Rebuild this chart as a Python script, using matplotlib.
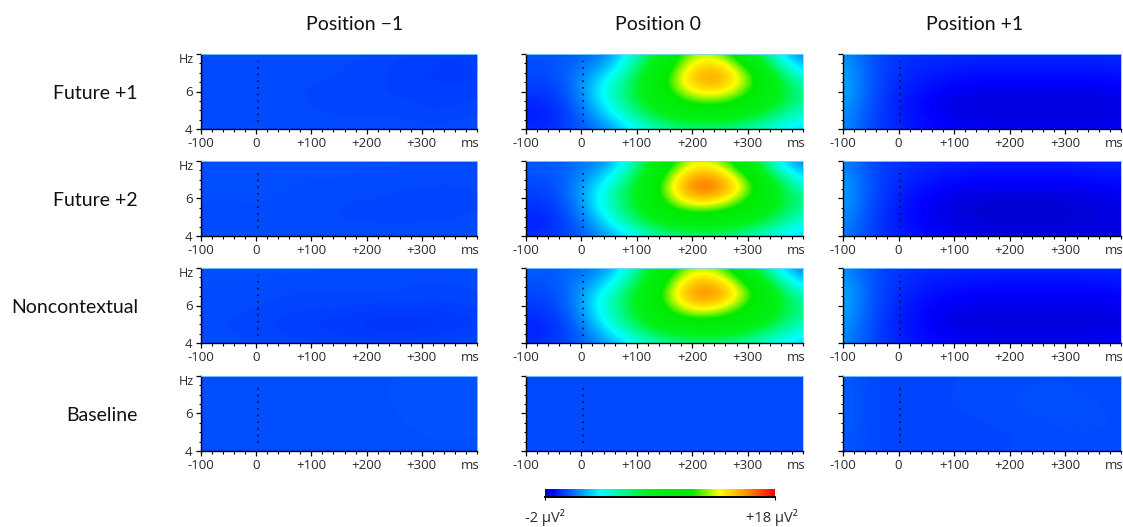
import numpy as np
import matplotlib
matplotlib.use("Agg")
import matplotlib.pyplot as plt
from matplotlib.colors import LinearSegmentedColormap, Normalize
from matplotlib.cm import ScalarMappable
from matplotlib.ticker import MultipleLocator, FixedLocator

W, H = 1123, 527
plt.rcParams['font.family'] = ['Open Sans', 'DejaVu Sans']

col_titles = ["Position \u22121", "Position 0", "Position +1"]
row_titles = ["Future +1", "Future +2", "Noncontextual", "Baseline"]
times = [-100, -50, 0, 50, 100, 150, 200, 250, 300, 350, 400]
freqs = [8.0, 7.33, 6.67, 6.0, 5.33, 4.67, 4.0]
x_tick_values = [-100, 0, 100, 200, 300]
x_tick_labels = ["-100", "0", "+100", "+200", "+300"]
scale_min, scale_max = -2, 18

f1_m1 = [[-.15,-.15,-.15,-.15,-.15,-.15,-.2,-.25,-.3,-.35,-.3],
         [-.15,-.15,-.15,-.15,-.15,-.2,-.25,-.3,-.35,-.4,-.35],
         [-.15,-.15,-.15,-.2,-.2,-.2,-.25,-.3,-.35,-.4,-.35],
         [-.15,-.15,-.15,-.2,-.2,-.25,-.25,-.3,-.3,-.35,-.3],
         [-.15,-.15,-.15,-.2,-.2,-.25,-.25,-.25,-.3,-.3,-.25],
         [-.15,-.15,-.15,-.15,-.2,-.2,-.2,-.2,-.25,-.25,-.2],
         [-.1,-.1,-.1,-.15,-.15,-.15,-.15,-.15,-.15,-.15,-.1]]
f1_0 = [[0.0,0.0,0.2,0.8,3.8,8.3,12.5,12.3,8.0,3.0,0.4],
        [-.1,-.1,0.5,1.5,5.0,9.5,14.0,14.8,11.0,5.2,1.5],
        [-.2,-.3,0.8,2.8,6.2,10.5,15.0,15.5,12.5,7.2,3.4],
        [-.4,-.5,0.8,3.6,6.5,10.3,13.5,14.0,11.5,7.5,4.8],
        [-.8,-.7,0.5,3.0,6.0,8.8,11.0,11.2,9.5,6.8,4.5],
        [-1.0,-.8,0.2,2.0,4.6,7.0,8.0,8.2,7.0,5.0,3.2],
        [-.7,-.6,0.0,1.0,2.8,4.4,5.0,5.0,4.2,3.0,2.0]]
f1_p1 = [[1.0,-.1,-.5,-.6,-.7,-.7,-.7,-.7,-.7,-.7,-.7],
         [1.4,0.0,-.6,-.8,-.9,-1.0,-1.0,-1.0,-1.0,-1.0,-.9],
         [1.6,0.0,-.7,-1.0,-1.2,-1.3,-1.3,-1.3,-1.3,-1.3,-1.2],
         [1.6,0.0,-.8,-1.2,-1.5,-1.6,-1.6,-1.6,-1.6,-1.6,-1.5],
         [1.4,-.1,-.9,-1.4,-1.7,-1.8,-1.8,-1.8,-1.8,-1.8,-1.7],
         [1.2,-.2,-.9,-1.3,-1.6,-1.7,-1.7,-1.7,-1.7,-1.7,-1.6],
         [1.0,-.2,-.8,-1.2,-1.4,-1.5,-1.5,-1.5,-1.5,-1.5,-1.5]]

f2_m1 = [[-.1,-.1,-.1,-.1,-.1,-.1,-.1,-.1,-.15,-.15,-.1],
         [-.1,-.1,-.1,-.1,-.1,-.1,-.15,-.15,-.15,-.2,-.15],
         [-.1,-.1,-.1,-.1,-.15,-.15,-.15,-.2,-.2,-.2,-.2],
         [-.1,-.1,-.1,-.15,-.15,-.2,-.2,-.2,-.25,-.25,-.2],
         [-.15,-.15,-.15,-.2,-.2,-.2,-.25,-.25,-.25,-.25,-.2],
         [-.15,-.15,-.15,-.2,-.2,-.2,-.2,-.2,-.2,-.2,-.15],
         [-.1,-.1,-.1,-.1,-.15,-.15,-.15,-.15,-.15,-.1,-.1]]
f2_0 = [[0.1,0.1,0.4,1.0,4.2,9.3,13.0,12.3,8.0,2.8,0.4],
        [0.0,0.0,0.7,2.0,5.6,11.0,15.0,14.8,10.5,5.0,1.5],
        [-.2,-.2,1.0,3.4,6.8,12.0,16.5,16.2,12.5,7.2,3.4],
        [-.4,-.4,1.0,4.0,7.0,11.5,15.0,14.5,11.0,7.6,4.6],
        [-.7,-.6,0.7,3.5,6.5,9.8,11.5,11.0,9.3,6.8,4.3],
        [-.9,-.7,0.3,2.4,5.0,7.4,8.2,8.2,7.0,5.0,3.0],
        [-.6,-.5,0.1,1.2,3.0,4.6,5.2,5.0,4.2,3.0,1.9]]
f2_p1 = [[0.8,-.2,-.6,-.7,-.8,-.9,-.9,-.9,-.9,-.8,-.8],
         [1.2,-.1,-.7,-.9,-1.1,-1.2,-1.2,-1.2,-1.2,-1.1,-1.0],
         [1.4,-.1,-.8,-1.1,-1.4,-1.5,-1.5,-1.5,-1.5,-1.4,-1.3],
         [1.4,-.1,-.9,-1.4,-1.7,-1.8,-1.85,-1.85,-1.8,-1.7,-1.6],
         [1.2,-.2,-1.0,-1.5,-1.8,-1.9,-1.95,-1.95,-1.9,-1.8,-1.7],
         [1.0,-.3,-1.0,-1.4,-1.7,-1.8,-1.85,-1.85,-1.8,-1.8,-1.7],
         [0.8,-.3,-.9,-1.3,-1.5,-1.6,-1.7,-1.7,-1.7,-1.7,-1.6]]

nc_m1 = [[-.1,-.1,-.1,-.1,-.1,-.15,-.15,-.15,-.15,-.15,-.1],
         [-.1,-.1,-.1,-.15,-.15,-.15,-.15,-.15,-.2,-.2,-.15],
         [-.15,-.15,-.15,-.2,-.2,-.2,-.2,-.2,-.25,-.25,-.2],
         [-.15,-.15,-.2,-.25,-.25,-.25,-.3,-.3,-.3,-.3,-.25],
         [-.2,-.2,-.25,-.3,-.35,-.4,-.45,-.5,-.5,-.45,-.35],
         [-.2,-.2,-.25,-.3,-.35,-.4,-.45,-.5,-.45,-.4,-.3],
         [-.1,-.15,-.2,-.25,-.25,-.3,-.3,-.3,-.3,-.25,-.2]]
nc_0 = [[0.1,0.1,0.4,1.0,4.2,9.0,12.7,12.0,7.8,2.8,0.4],
        [0.0,0.0,0.7,2.0,5.6,10.6,14.7,14.4,10.2,5.0,1.5],
        [-.2,-.2,1.0,3.4,6.8,11.6,16.0,15.8,12.2,7.2,3.4],
        [-.4,-.4,1.0,4.0,7.0,11.0,14.5,14.0,10.8,7.5,4.6],
        [-.7,-.6,0.7,3.5,6.5,9.4,11.2,10.8,9.2,6.8,4.4],
        [-.9,-.7,0.3,2.4,5.0,7.2,8.1,8.2,7.0,5.0,3.1],
        [-.6,-.5,0.1,1.2,3.0,4.5,5.1,5.0,4.2,3.0,1.9]]
nc_p1 = [[1.0,-.1,-.5,-.7,-.8,-.8,-.8,-.8,-.8,-.8,-.8],
         [1.4,0.0,-.6,-.9,-1.0,-1.1,-1.1,-1.1,-1.1,-1.1,-1.0],
         [1.6,0.0,-.7,-1.1,-1.3,-1.4,-1.4,-1.4,-1.4,-1.4,-1.3],
         [1.6,0.0,-.8,-1.3,-1.5,-1.6,-1.6,-1.6,-1.6,-1.6,-1.5],
         [1.4,-.1,-.9,-1.4,-1.7,-1.8,-1.8,-1.8,-1.8,-1.8,-1.7],
         [1.2,-.2,-.9,-1.3,-1.6,-1.7,-1.7,-1.7,-1.7,-1.7,-1.6],
         [1.0,-.2,-.8,-1.2,-1.4,-1.5,-1.5,-1.5,-1.5,-1.5,-1.4]]

bl_m1 = [[-.1,-.1,-.1,-.1,-.05,-.05,-.05,-.05,-.05,-.05,-.05],
         [-.1,-.1,-.1,-.1,-.1,-.05,-.05,-.05,0.0,0.0,-.05],
         [-.1,-.1,-.1,-.1,-.1,-.1,-.05,-.05,0.0,0.0,-.05],
         [-.1,-.1,-.1,-.1,-.1,-.1,-.1,-.05,0.0,0.0,-.05],
         [-.1,-.1,-.1,-.1,-.1,-.1,-.1,-.05,-.05,0.0,-.05],
         [-.1,-.1,-.1,-.1,-.1,-.1,-.1,-.05,-.05,-.05,-.05],
         [-.05,-.05,-.05,-.05,-.05,-.05,-.05,-.05,-.05,-.05,-.05]]
bl_0 = [[-.2,-.2,-.2,-.2,-.2,-.2,-.2,-.2,-.2,-.2,-.2],
        [-.2,-.2,-.2,-.2,-.2,-.2,-.2,-.2,-.2,-.2,-.2],
        [-.2,-.2,-.2,-.2,-.2,-.2,-.2,-.2,-.15,-.15,-.2],
        [-.2,-.2,-.2,-.2,-.2,-.2,-.2,-.15,-.15,-.15,-.2],
        [-.2,-.2,-.2,-.2,-.2,-.2,-.2,-.15,-.15,-.15,-.2],
        [-.2,-.2,-.2,-.2,-.2,-.2,-.2,-.2,-.15,-.2,-.2],
        [-.15,-.15,-.15,-.15,-.15,-.15,-.15,-.15,-.15,-.15,-.15]]
bl_p1 = [[0.1,-.2,-.25,-.25,-.2,-.2,-.2,-.15,-.15,-.2,-.2],
         [0.2,-.2,-.25,-.25,-.2,-.15,-.15,-.1,-.1,-.15,-.2],
         [0.2,-.2,-.25,-.25,-.2,-.15,-.1,-.1,-.05,-.1,-.2],
         [0.2,-.2,-.25,-.25,-.2,-.2,-.15,-.1,-.05,-.1,-.15],
         [0.2,-.2,-.25,-.25,-.25,-.2,-.2,-.15,-.1,-.1,-.15],
         [0.1,-.2,-.25,-.25,-.25,-.25,-.2,-.2,-.15,-.15,-.15],
         [0.1,-.2,-.25,-.25,-.25,-.2,-.2,-.2,-.2,-.15,-.15]]

grids = [[f1_m1, f1_0, f1_p1], [f2_m1, f2_0, f2_p1],
         [nc_m1, nc_0, nc_p1], [bl_m1, bl_0, bl_p1]]

col_px = [(201, 477), (526, 803), (843, 1121)]
row_px = [(54, 129), (161, 236), (268, 343), (376, 451)]
title_px = [355, 658, 975]

cmap = LinearSegmentedColormap.from_list("tf", [
    (0.00, (0, 0, 0.80)), (0.03, (0, 0, 1)), (0.24, (0, 1, 1)),
    (0.45, (0, 0.95, 0.1)), (0.64, (0, 0.92, 0)), (0.76, (1, 1, 0)),
    (0.86, (1, 0.65, 0)), (1.00, (1, 0, 0))])
norm = Normalize(scale_min, scale_max)

fig = plt.figure(figsize=(W / 100, H / 100), dpi=100)
ink = "#2a2a2a"

def rect(x0, x1, y0, y1):
    return [x0 / W, 1 - y1 / H, (x1 - x0) / W, (y1 - y0) / H]

dt = (times[1] - times[0]) / 2
df = (freqs[0] - freqs[-1]) / (len(freqs) - 1) / 2
for r, (y0, y1) in enumerate(row_px):
    for c, (x0, x1) in enumerate(col_px):
        ax = fig.add_axes(rect(x0, x1, y0, y1))
        ax.imshow(np.array(grids[r][c]), cmap=cmap, norm=norm, aspect="auto",
                  interpolation="bicubic",
                  extent=[times[0] - dt, times[-1] + dt, freqs[-1] - df, freqs[0] + df])
        ax.set_xlim(-100, 400)
        ax.set_ylim(4, 8)
        ax.plot([3, 3], [4.4, 7.65], color="#101020", lw=1.2, ls=(0, (1, 3)))
        for s in ("top", "right"):
            ax.spines[s].set_color("#7fd4ff")
            ax.spines[s].set_linewidth(0.6)
        for s in ("left", "bottom"):
            ax.spines[s].set_color("black")
            ax.spines[s].set_linewidth(1.0)
        ax.xaxis.set_major_locator(FixedLocator(x_tick_values))
        ax.set_xticklabels(x_tick_labels)
        ax.xaxis.set_minor_locator(MultipleLocator(20))
        ax.yaxis.set_major_locator(FixedLocator([4, 6, 8]))
        ax.yaxis.set_minor_locator(MultipleLocator(0.5))
        ax.tick_params(axis="both", which="major", length=3.5, width=0.9, color="black",
                       labelsize=9.5, labelcolor=ink, pad=2.5)
        ax.tick_params(axis="both", which="minor", length=1.8, width=0.8, color="black")
        ax.text(388, -0.19, "ms", transform=ax.get_xaxis_transform(), ha="center",
                va="center", fontsize=9.5, color=ink)
        if c == 0:
            ax.set_yticklabels(["4", "6", ""])
            ax.text(-0.025, 7.7, "Hz", transform=ax.get_yaxis_transform(), ha="right",
                    va="center", fontsize=9, color=ink)
        else:
            ax.set_yticklabels([])

# column and row titles
for xp, t in zip(title_px, col_titles):
    fig.text(xp / W, 1 - 24 / H, t, ha="center", va="center",
             fontsize=14, color="#111111", family=["Lato", "DejaVu Sans"])
for (y0, y1), t in zip(row_px, row_titles):
    fig.text(138 / W, 1 - ((y0 + y1) / 2 + 2) / H, t, ha="right", va="center",
             fontsize=14, color="#111111", family=["Lato", "DejaVu Sans"])

# colour scale
cax = fig.add_axes(rect(545, 775, 489, 497))
cb = fig.colorbar(ScalarMappable(norm=norm, cmap=cmap), cax=cax, orientation="horizontal")
cb.set_ticks([scale_min, scale_max])
cb.set_ticklabels(["", ""])
cb.outline.set_visible(False)
cax.tick_params(axis="x", length=2.5, width=0.8, color="black")
cax.plot([0, 1], [0, 0], transform=cax.transAxes, color="black", lw=1.4, clip_on=False)
fig.text(545 / W, 1 - 518 / H, "-2 \u00b5V\u00b2", ha="center", va="center",
         fontsize=10.5, color=ink)
fig.text(772 / W, 1 - 518 / H, "+18 \u00b5V\u00b2", ha="center", va="center",
         fontsize=10.5, color=ink)

fig.savefig("out.png", dpi=100)
